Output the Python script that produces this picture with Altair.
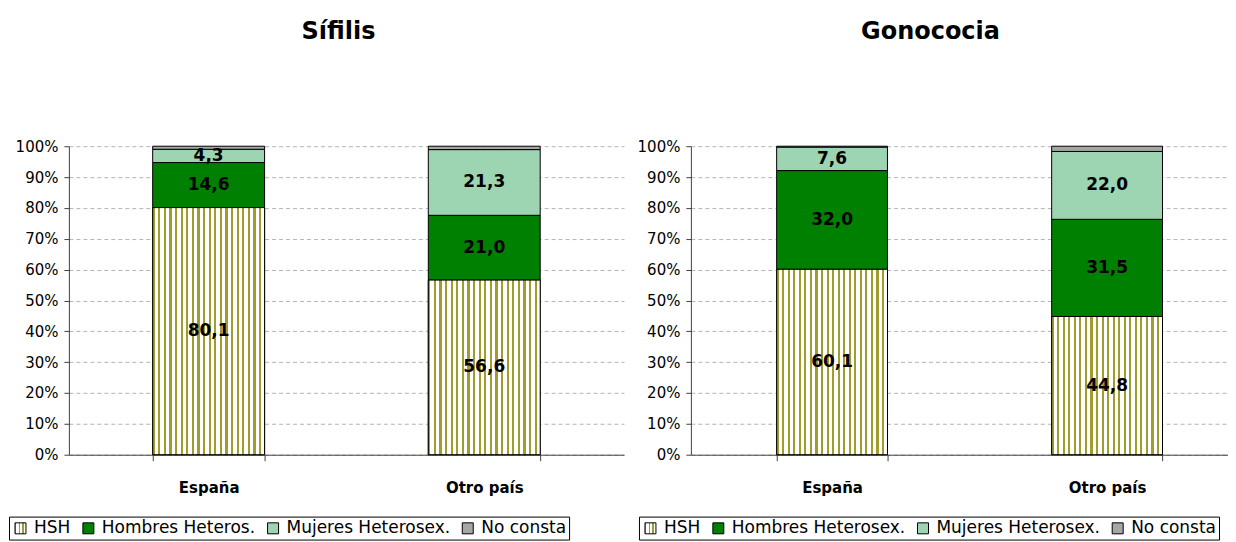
import altair as alt
import pandas as pd

# ---------------- data ----------------
paises = ["España", "Otro país"]
grupos_sifilis = ["HSH", "Hombres Heteros.", "Mujeres Heterosex.", "No consta"]
grupos_gonococia = ["HSH", "Hombres Heterosex.", "Mujeres Heterosex.", "No consta"]
sifilis_espana = [80.1, 14.6, 4.3, 1.0]
sifilis_otro = [56.6, 21.0, 21.3, 1.1]
gonococia_espana = [60.1, 32.0, 7.6, 0.3]
gonococia_otro = [44.8, 31.5, 22.0, 1.7]
y_ticks = [0, 10, 20, 30, 40, 50, 60, 70, 80, 90, 100]
titulos = ["Sífilis", "Gonococia"]

FONT = "DejaVu Sans"
OLIVE = "#a09d2e"


def tabla(grupos, por_pais):
    filas = []
    for pais, valores in zip(paises, por_pais):
        for i, (g, v) in enumerate(zip(grupos, valores)):
            filas.append({"pais": pais, "grupo": g, "orden": i, "valor": v,
                          "etiqueta": f"{v:.1f}".replace(".", ",")})
    return pd.DataFrame(filas)


def rayas(n, frac, color):
    stops = []
    for i in range(n):
        a = i / n
        b = (i + frac) / n
        stops += [{"offset": a, "color": "white"}, {"offset": a, "color": color},
                  {"offset": b, "color": color}, {"offset": b, "color": "white"}]
    stops.append({"offset": 1, "color": "white"})
    return stops


grad_barra = {"gradient": "linear", "x1": 0, "y1": 0, "x2": 1, "y2": 0,
              "stops": rayas(20, 0.38, OLIVE)}

# expression producing a small striped gradient for the legend symbol
stops_leg = rayas(3, 0.4, OLIVE)
stops_expr = ", ".join(f"{{offset: {s['offset']}, color: '{s['color']}'}}" for s in stops_leg)
grad_leyenda_expr = f"{{gradient: 'linear', x1: 0, y1: 0, x2: 1, y2: 0, stops: [{stops_expr}]}}"

colores = [{"expr": grad_leyenda_expr}, "#008000", "#9dd4b2", "#a6a6a6"]


def panel(df, grupos, titulo, dx, width, legend_x, p_inner, p_outer, align):
    base = alt.Chart(df).transform_stack(
        stack="valor", groupby=["pais"], sort=[alt.SortField("orden")], as_=["y0", "y1"]
    )
    x = alt.X("pais:N", sort=paises,
              scale=alt.Scale(paddingInner=p_inner, paddingOuter=p_outer, align=align),
              axis=alt.Axis(title=None, labelAngle=0, tickBand="extent",
                            labelFont=FONT, labelFontWeight="bold", labelFontSize=15,
                            labelColor="black", labelPadding=20, tickSize=6,
                            tickColor="#404040", domainColor="#404040", grid=False))
    yaxis = alt.Axis(title=None, values=y_ticks, labelExpr="datum.value + '%'",
                     labelFont=FONT, labelFontSize=15, labelColor="black",
                     labelPadding=6, tickSize=5, tickColor="#404040",
                     domainColor="#404040", grid=True, gridDash=[4, 3],
                     gridColor="#b4b4b4", gridWidth=1)
    yscale = alt.Scale(domain=[0, 100], nice=False)

    bars = base.mark_bar(stroke="black", strokeWidth=1).encode(
        x=x,
        y=alt.Y("y0:Q", scale=yscale, axis=yaxis),
        y2="y1:Q",
        color=alt.Color("grupo:N",
                        scale=alt.Scale(domain=grupos, range=colores),
                        legend=alt.Legend(title=None, orient="none", legendX=legend_x,
                                          legendY=371, direction="horizontal",
                                          strokeColor="black", fillColor="white",
                                          padding=3, symbolType="square",
                                          symbolSize=121, symbolStrokeColor="black",
                                          symbolStrokeWidth=1, symbolOpacity=1,
                                          labelFont=FONT, labelFontSize=17,
                                          labelColor="black", labelLimit=400,
                                          columnPadding=9, labelOffset=5)),
    )
    hsh = base.transform_filter(alt.datum.orden == 0).mark_bar(
        fill=grad_barra, stroke="black", strokeWidth=1
    ).encode(
        x=x,
        y=alt.Y("y0:Q", scale=yscale, axis=yaxis),
        y2="y1:Q",
    )
    text = base.transform_filter(alt.datum.orden < 3).transform_calculate(
        ymid="(datum.y0 + datum.y1) / 2"
    ).mark_text(font=FONT, fontWeight="bold", fontSize=17, color="black").encode(
        x=x,
        y=alt.Y("ymid:Q", scale=yscale, axis=yaxis),
        text="etiqueta:N",
    )
    return alt.layer(bars, hsh, text).properties(
        width=width, height=309,
        view=alt.ViewBackground(stroke="transparent", strokeWidth=0),
        title=alt.TitleParams(titulo, font=FONT, fontSize=24, fontWeight="bold",
                              color="black", anchor="middle", dx=dx, offset=95),
    )


df_sif = tabla(grupos_sifilis, [sifilis_espana, sifilis_otro])
df_gon = tabla(grupos_gonococia, [gonococia_espana, gonococia_otro])

left = panel(df_sif, grupos_sifilis, titulos[0], -8, 556, -60, 0.594, 0.304, 0.5)
right = panel(df_gon, grupos_gonococia, titulos[1], -29, 538, -52, 0.597, 0.275, 0.567)

chart = alt.hconcat(left, right, spacing=13).resolve_scale(
    color="independent", x="independent", y="independent"
).resolve_legend(color="independent").properties(
    padding={"left": 0, "top": 12, "right": 0, "bottom": 0}
).configure_view(stroke="transparent", strokeWidth=0).configure(background="white")

chart.save("out.html", embed_options={"renderer": "svg", "actions": False})
